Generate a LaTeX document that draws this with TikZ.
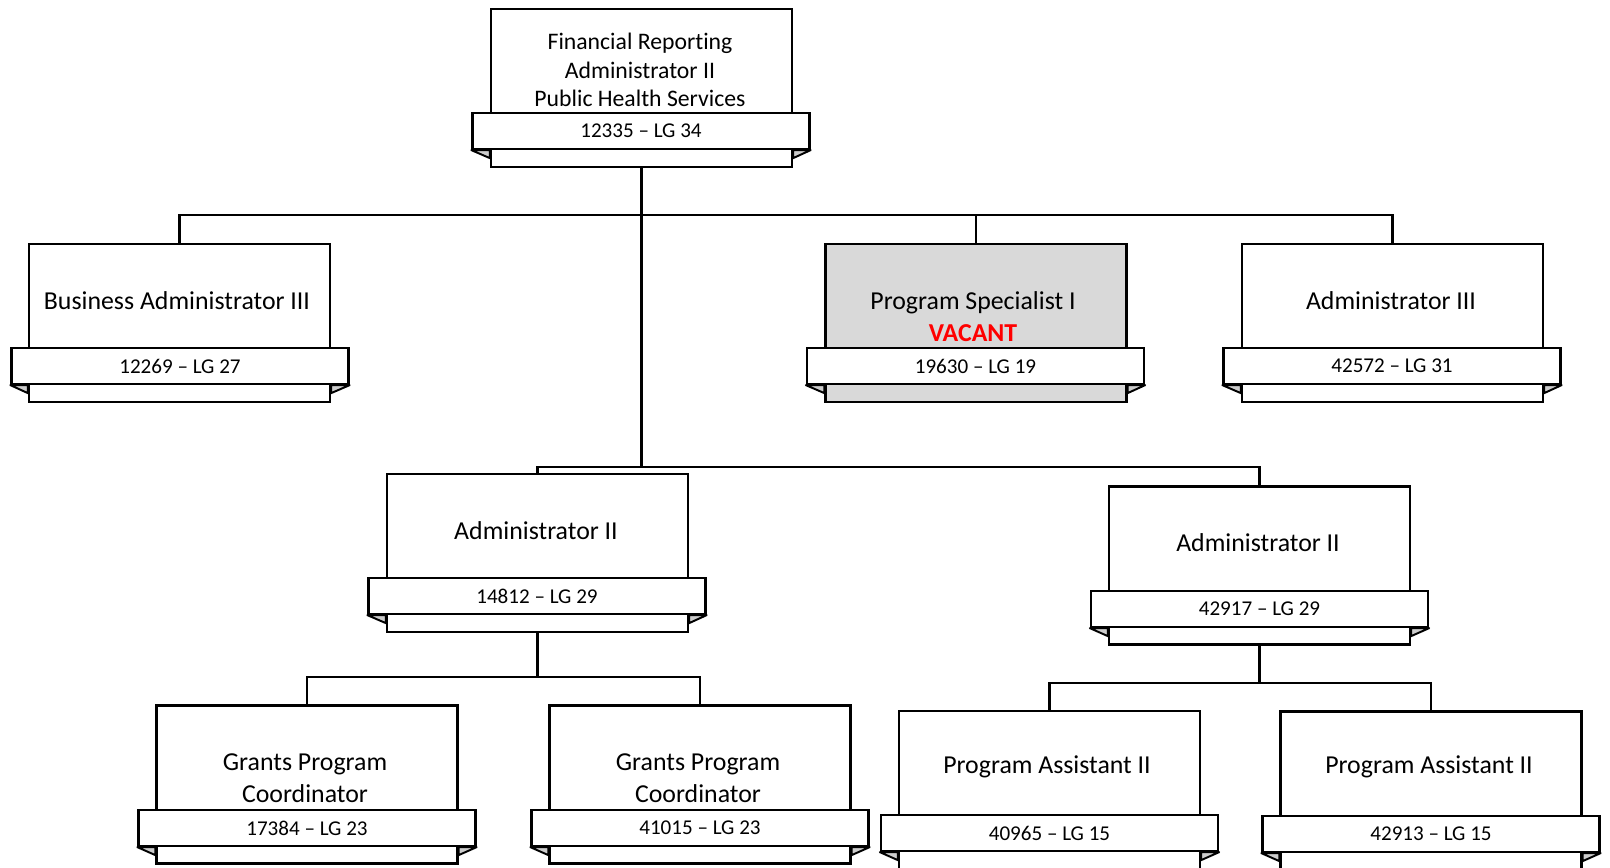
\documentclass[tikz,border=0pt]{standalone}
\usepackage{fontspec}
\setmainfont[Ligatures=NoCommon]{Carlito}
\usepackage{xcolor}
\usepackage{tikz}
\usetikzlibrary{calc}

\definecolor{vacantgray}{RGB}{217,217,217}

\begin{document}
\begin{tikzpicture}[x=0.02cm, y=-0.02cm,
    card/.style={draw, line width=1.3pt, fill=white, minimum width=6.02cm, minimum height=3.16cm, inner sep=0pt},
    band/.style={draw, line width=1.3pt, fill=white, minimum width=6.74cm, minimum height=0.72cm, inner sep=0pt, font=\fontsize{12}{14}\selectfont},
    ttl/.style={align=center, inner sep=0pt, font=\fontsize{14.7}{18.2}\selectfont},
    tail/.style={draw, line width=1.1pt, fill=gray!40, line join=round},
    link/.style={draw, line width=1.3pt}]
  \useasboundingbox (0,0) rectangle (1610,867);

  % Folded ends of the ribbon
  \def\tails#1{%
    \filldraw[tail] (#1-id.south west) -- (#1-id.south west -| #1.west) -- ($(#1-id.south west -| #1.west)+(0,8)$) -- cycle;
    \filldraw[tail] (#1-id.south east) -- (#1-id.south east -| #1.east) -- ($(#1-id.south east -| #1.east)+(0,8)$) -- cycle;}

  % Bus levels
  \coordinate (bus1) at (0,215);
  \coordinate (bus2) at (0,467);
  \coordinate (bus3) at (0,677);
  \coordinate (bus4) at (0,683);

  % Cards
  \node[card] (top) at (641.5,88) {};
  \node[card] (ba) at (179.5,323) {};
  \node[card, fill=vacantgray] (ps) at (976,323) {};
  \node[card] (adm) at (1392.5,323) {};
  \node[card] (adl) at (537.5,553) {};
  \node[card] (adr) at (1259.5,565.5) {};
  \node[card] (gpl) at (307,784.5) {};
  \node[card] (gpr) at (700,784.5) {};
  \node[card] (pal) at (1049.5,790) {};
  \node[card] (par) at (1431,790.5) {};

  % Connectors
  \draw[link] (top.south) -- (top.south |- bus2);
  \draw[link] (top.south |- bus1) -| (ba.north);
  \draw[link] (top.south |- bus1) -| (ps.north);
  \draw[link] (top.south |- bus1) -| (adm.north);
  \draw[link] (top.south |- bus2) -| (adl.north);
  \draw[link] (top.south |- bus2) -| (adr.north);
  \draw[link] (adl.south) -- (adl.south |- bus3) -| (gpl.north);
  \draw[link] (adl.south |- bus3) -| (gpr.north);
  \draw[link] (adr.south) -- (adr.south |- bus4) -| (pal.north);
  \draw[link] (adr.south |- bus4) -| (par.north);

  % Ribbons
  \node[band] (top-id) at (641,131) {};
  \node[band] (ba-id) at (180,366) {};
  \node[band] (ps-id) at (975.5,366) {};
  \node[band] (adm-id) at (1392,366) {};
  \node[band] (adl-id) at (537,596) {};
  \node[band] (adr-id) at (1259.5,609) {};
  \node[band] (gpl-id) at (307,828) {};
  \node[band] (gpr-id) at (700,828) {};
  \node[band] (pal-id) at (1049.5,833) {};
  \node[band] (par-id) at (1431,834) {};
  \tails{top} \tails{ba} \tails{ps} \tails{adm} \tails{adl}
  \tails{adr} \tails{gpl} \tails{gpr} \tails{pal} \tails{par}
  \node[band, draw=none, fill=none] at (top-id) {12335 -- LG 34};
  \node[band, draw=none, fill=none] at (ba-id) {12269 -- LG 27};
  \node[band, draw=none, fill=none] at (ps-id) {19630 -- LG 19};
  \node[band, draw=none, fill=none] at (adm-id) {42572 -- LG 31};
  \node[band, draw=none, fill=none] at (adl-id) {14812 -- LG 29};
  \node[band, draw=none, fill=none] at (adr-id) {42917 -- LG 29};
  \node[band, draw=none, fill=none] at (gpl-id) {17384 -- LG 23};
  \node[band, draw=none, fill=none] at (gpr-id) {41015 -- LG 23};
  \node[band, draw=none, fill=none] at (pal-id) {40965 -- LG 15};
  \node[band, draw=none, fill=none] at (par-id) {42913 -- LG 15};

  % Titles
  \node[ttl, font=\fontsize{13.5}{16.3}\selectfont] (top-t) at (640,70) {Financial Reporting\\Administrator II\\Public Health Services};
  \node[ttl] (ba-t) at (177,301) {Business Administrator III};
  \node[ttl] (ps-t) at (973,317) {Program Specialist I\\\textcolor{red}{\textbf{VACANT}}};
  \node[ttl] (adm-t) at (1391,301) {Administrator III};
  \node[ttl] (adl-t) at (536,531) {Administrator II};
  \node[ttl] (adr-t) at (1258,543) {Administrator II};
  \node[ttl] (gpl-t) at (305,778) {Grants Program\\Coordinator};
  \node[ttl] (gpr-t) at (698,778) {Grants Program\\Coordinator};
  \node[ttl] (pal-t) at (1047,767) {Program Assistant II};
  \node[ttl] (par-t) at (1429,767) {Program Assistant II};
\end{tikzpicture}
\end{document}
